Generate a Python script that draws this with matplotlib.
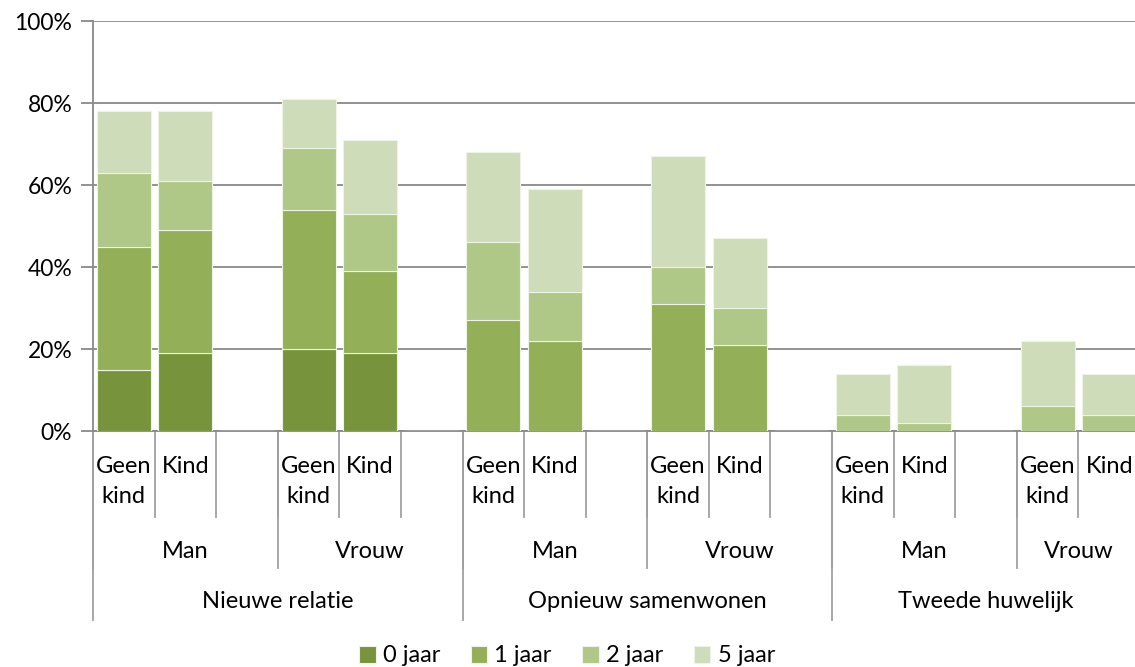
import matplotlib.pyplot as plt
import matplotlib.transforms as mtransforms
import numpy as np

plt.rcParams['font.family'] = ['Lato', 'DejaVu Sans']

# 17 category slots (empty slot between gender groups)
kind_labels = ['Geen\nkind', 'Kind', '', 'Geen\nkind', 'Kind', '',
               'Geen\nkind', 'Kind', '', 'Geen\nkind', 'Kind', '',
               'Geen\nkind', 'Kind', '', 'Geen\nkind', 'Kind']
gender_labels = ['Man', 'Vrouw', 'Man', 'Vrouw', 'Man', 'Vrouw']
gender_spans = [(0, 3), (3, 6), (6, 9), (9, 12), (12, 15), (15, 17)]
group_labels = ['Nieuwe relatie', 'Opnieuw samenwonen', 'Tweede huwelijk']
group_spans = [(0, 6), (6, 12), (12, 17)]

series = ['0 jaar', '1 jaar', '2 jaar', '5 jaar']
jaar0 = [15, 19, 0, 20, 19, 0, 0, 0, 0, 0, 0, 0, 0, 0, 0, 0, 0]
jaar1 = [30, 30, 0, 34, 20, 0, 27, 22, 0, 31, 21, 0, 0, 0, 0, 0, 0]
jaar2 = [18, 12, 0, 15, 14, 0, 19, 12, 0, 9, 9, 0, 4, 2, 0, 6, 4]
jaar5 = [15, 17, 0, 12, 18, 0, 22, 25, 0, 27, 17, 0, 10, 14, 0, 16, 10]
colors = ['#77933C', '#93B058', '#AFC787', '#CFDCB9']

W, H = 1135, 667
fs = 17
fig = plt.figure(figsize=(W / 100, H / 100), dpi=100)
left, right, top, bottom = 93, 1140, 21, 431
ax = fig.add_axes([left / W, 1 - bottom / H, (right - left) / W, (bottom - top) / H])

x = np.arange(len(kind_labels))
base = np.zeros(len(x))
for name, vals, c in zip(series, [jaar0, jaar1, jaar2, jaar5], colors):
    v = np.array(vals, dtype=float)
    ax.bar(x, v, 0.877, bottom=base, color=c, edgecolor='#eef3e6', linewidth=0.8,
           label=name, zorder=3)
    base += v

gray = '#898989'
ax.set_xlim(-0.5, len(x) - 0.5)
ax.set_ylim(0, 100)
ax.set_yticks(range(0, 101, 20))
ax.set_yticklabels([f'{t}%' for t in range(0, 101, 20)], fontsize=16.5)
ax.yaxis.grid(True, color=gray, linewidth=1.3, zorder=0)
ax.tick_params(axis='y', length=9, width=1.3, color=gray, pad=6)
ax.set_xticks([])
for s in ['top', 'right']:
    ax.spines[s].set_visible(False)
for s in ['left', 'bottom']:
    ax.spines[s].set_color(gray)
    ax.spines[s].set_linewidth(1.3)

# multi-level category axis
trans = mtransforms.blended_transform_factory(ax.transData, ax.transAxes)
ph = bottom - top
lvl1, lvl2, lvl3 = -(517 - bottom) / ph, -(568 - bottom) / ph, -(620 - bottom) / ph
lc = '#a0a0a0'
for b in range(1, len(x)):
    ax.plot([b - 0.5, b - 0.5], [0, lvl1], transform=trans, color=lc, lw=1.3, clip_on=False)
for i, lab in enumerate(kind_labels):
    ax.text(i, -(456 - bottom) / ph, lab, transform=trans, ha='center', va='top',
            fontsize=fs, linespacing=1.55)
for (a, b), lab in zip(gender_spans, gender_labels):
    ax.plot([a - 0.5, a - 0.5], [0, lvl2], transform=trans, color=lc, lw=1.3, clip_on=False)
    ax.text((a + b - 1) / 2, -(551 - bottom) / ph, lab, transform=trans, ha='center',
            va='center', fontsize=fs)
for (a, b), lab in zip(group_spans, group_labels):
    ax.plot([a - 0.5, a - 0.5], [0, lvl3], transform=trans, color=lc, lw=1.3, clip_on=False)
    ax.text((a + b - 1) / 2, -(602 - bottom) / ph, lab, transform=trans, ha='center',
            va='center', fontsize=fs)

fig.legend(loc='center', bbox_to_anchor=(567 / W, 1 - 656 / H), ncol=4, frameon=False,
           fontsize=fs, handlelength=0.7, handleheight=0.7, handletextpad=0.3,
           columnspacing=1.3)

fig.savefig('out.png', dpi=100)
